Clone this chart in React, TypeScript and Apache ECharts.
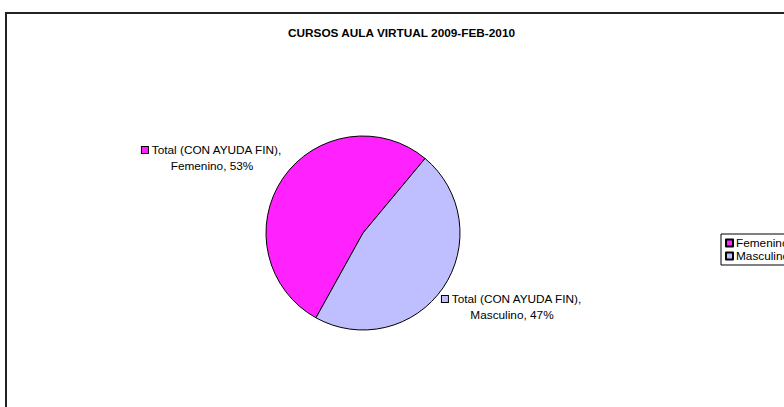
import React, { useEffect, useRef } from "react";
import * as echarts from "echarts";

const titleText = "CURSOS AULA VIRTUAL 2009-FEB-2010";
const seriesName = "Total (CON AYUDA FIN)";
const categories = ["Femenino", "Masculino"];
const values = [53, 47];
const colors = ["#FF22FF", "#BFBFFF"];

const FONT = "'Liberation Sans', Arial, sans-serif";

export default function App() {
  const ref = useRef<HTMLDivElement>(null);
  useEffect(() => {
    document.body.style.margin = "0";
    const chart = echarts.init(ref.current!, null, { renderer: "svg" });
    const rich: any = {
      t: { fontSize: 11.8, fontFamily: FONT, color: "#000", align: "center", lineHeight: 16 },
    };
    colors.forEach((c, i) => {
      rich["sq" + i] = {
        width: 6,
        height: 6,
        backgroundColor: c,
        borderColor: "#000",
        borderWidth: 1,
        align: "center",
      };
    });
    const labelPos = [
      { x: 212, y: 158 },
      { x: 512, y: 307 },
    ];
    chart.setOption({
      animation: false,
      backgroundColor: "#fff",
      title: {
        text: titleText,
        left: 288,
        top: 27,
        padding: 0,
        textStyle: { fontSize: 11.8, fontWeight: "bold", fontFamily: FONT, color: "#000" },
      },
      legend: {
        orient: "vertical",
        left: 721,
        top: 234,
        padding: [3, 4, 3, 4],
        itemGap: 1,
        itemWidth: 7,
        itemHeight: 7,
        icon: "rect",
        borderColor: "#000",
        borderWidth: 1,
        backgroundColor: "#fff",
        textStyle: { fontSize: 11.8, fontFamily: FONT, color: "#000", lineHeight: 12, padding: [0, 0, 0, -2] },
        data: categories,
      },
      graphic: [
        {
          type: "rect",
          shape: { x: 6, y: 13, width: 900, height: 500 },
          style: { fill: "none", stroke: "#222", lineWidth: 2 },
          silent: true,
        },
      ],
      series: [
        {
          type: "pie",
          name: seriesName,
          center: [363, 233],
          radius: 97,
          startAngle: 241,
          clockwise: true,
          itemStyle: { borderColor: "#000", borderWidth: 1 },
          label: {
            show: true,
            position: "outside",
            formatter: (p: any) =>
              `{sq${p.dataIndex}|}{t| ${p.seriesName},}\n{t|${p.name}, ${Math.round(p.percent)}%}`,
            rich,
          },
          labelLine: { show: false },
          labelLayout: (p: any) => ({
            x: labelPos[p.dataIndex].x,
            y: labelPos[p.dataIndex].y,
            align: "center",
            verticalAlign: "middle",
          }),
          emphasis: { disabled: true },
          data: categories.map((n, i) => ({ name: n, value: values[i], itemStyle: { color: colors[i] } })),
        },
      ],
    });
    return () => chart.dispose();
  }, []);
  return <div ref={ref} style={{ width: 784, height: 407 }} />;
}
